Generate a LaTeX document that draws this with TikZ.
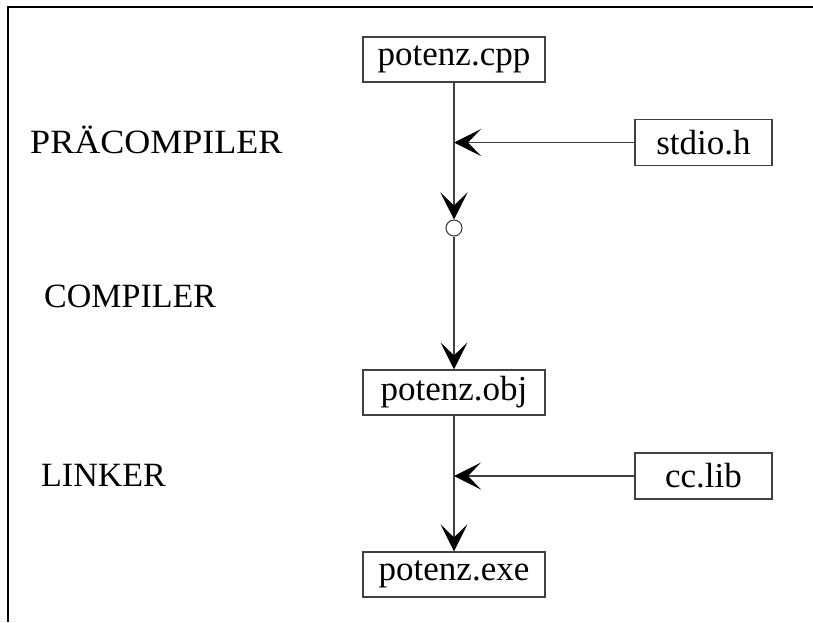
\documentclass[tikz,border=0pt]{standalone}
\usepackage{fontspec}
\setmainfont{Liberation Serif}
\usetikzlibrary{arrows.meta}
\begin{document}
\begin{tikzpicture}[x=1pt,y=-1pt,
  box/.style={draw=black!75, line width=1.3pt, inner sep=0pt, font=\fontsize{35}{40}\selectfont},
  mainbox/.style={box, minimum width=182pt, minimum height=45pt},
  sidebox/.style={box, minimum width=137pt, minimum height=46pt},
  lbl/.style={anchor=base west, inner sep=0pt, font=\fontsize{34}{40}\selectfont},
  conn/.style={draw=black!75, line width=1.2pt, -{Stealth[length=27pt,width=27pt,inset=13pt,color=black]}},
  plain/.style={draw=black!75, line width=1.2pt},
  joint/.style={draw=black!80, line width=1pt, fill=white, circle, minimum size=16pt, inner sep=0pt},
]
\useasboundingbox (0,0) rectangle (813,622);
\draw[line width=2pt, black] (813,6.5) -- (7.5,6.5) -- (7.5,622);

\node[mainbox] (cpp) at (454,59.5) {potenz.cpp};
\node[sidebox] (stdio) at (703.5,142.5) {stdio.h};
\node[joint] (c) at (454,228) {};
\node[mainbox] (obj) at (454,392.5) {potenz.obj};
\node[sidebox] (cclib) at (703.5,476) {cc.lib};
\node[mainbox] (exe) at (454,574.5) {potenz.exe};

\coordinate (j1) at (cpp.south |- stdio.west);
\coordinate (j2) at (obj.south |- cclib.west);

\node[lbl, xscale=1.06] (pre) at (30,153) {PRÄCOMPILER};
\node[lbl] (comp) at (44,307.7) {COMPILER};
\node[lbl] (link) at (41,486.7) {LINKER};

\draw[plain] (cpp.south) -- (j1);
\draw[conn] (j1) -- (c.north);
\draw[conn] (stdio.west) -- (j1);
\draw[conn] (c.south) -- (obj.north);
\draw[plain] (obj.south) -- (j2);
\draw[conn] (j2) -- (exe.north);
\draw[conn] (cclib.west) -- (j2);
\end{tikzpicture}
\end{document}
